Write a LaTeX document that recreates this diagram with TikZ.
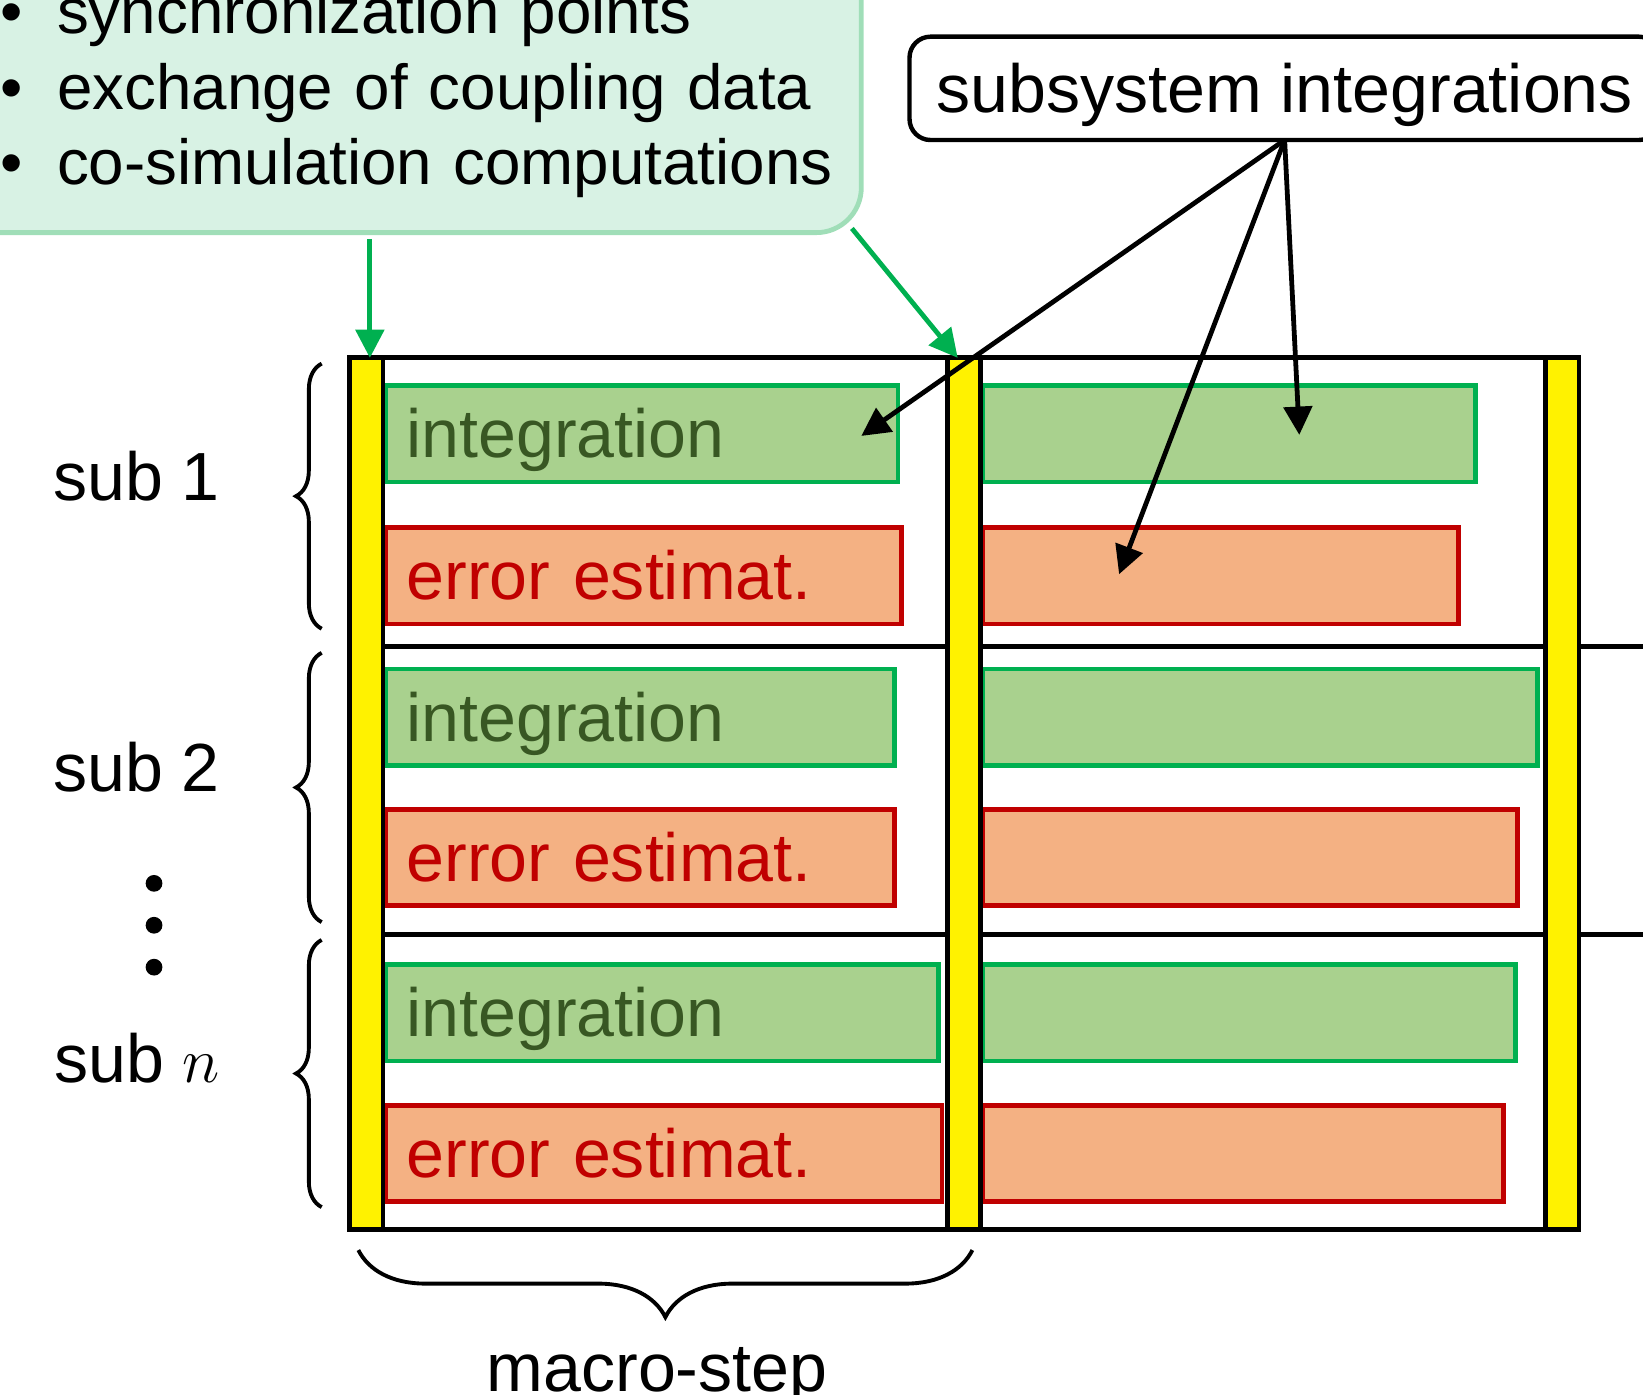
\documentclass[tikz,border=0pt]{standalone}
\usepackage{fontspec}
\setmainfont{Liberation Sans}
\usetikzlibrary{arrows.meta,decorations.pathreplacing}

\definecolor{intgreen}{RGB}{0,176,80}
\definecolor{intfill}{RGB}{169,209,142}
\definecolor{inttext}{RGB}{56,87,35}
\definecolor{errred}{RGB}{192,0,0}
\definecolor{errfill}{RGB}{244,177,131}
\definecolor{syncfill}{RGB}{216,242,228}
\definecolor{syncdraw}{RGB}{160,222,184}

\newcommand{\syncitem}{\makebox[0.885em][l]{\textbullet}}

\begin{document}
\begin{tikzpicture}[x=0.1mm, y=-0.1mm, font=\fontsize{18.5pt}{22pt}\selectfont,
    gridline/.style = {line width=1.3pt},
    syncbar/.style = {draw, fill=yellow, line width=1.3pt, anchor=north west, outer sep=0pt, minimum width=3.2mm, minimum height=83.2mm},
    intbox/.style = {draw=intgreen, fill=intfill, text=inttext, line width=1.3pt, anchor=north west, outer sep=0pt, inner xsep=2mm, minimum height=9.2mm, align=left, text height=13pt, text depth=0pt},
    errbox/.style = {intbox, draw=errred, fill=errfill, text=errred},
    pointer/.style = {line width=1.3pt, -{Triangle[length=2.7mm, width=2.7mm]}},
    syncarrow/.style = {pointer, draw=intgreen},
    curly/.style = {decorate, decoration={brace, amplitude=#1}, line width=1.05pt},
    label/.style = {anchor=base west, inner sep=0pt}]

    \useasboundingbox (0,0) rectangle (1568,1331);

    \node[draw=syncdraw, fill=syncfill, line width=1.3pt, rounded corners=4.3mm, anchor=south east, outer sep=0pt, minimum width=90mm, minimum height=35mm] (sync) at (822,222) {};
    \node[label, text width=80mm, align=left, font=\fontsize{17.3pt}{20.5pt}\selectfont] (synctext) at (0,32) {\syncitem synchronization points\\ \syncitem exchange of coupling data\\ \syncitem co-simulation computations};

    \node[draw, fill=white, line width=1.2pt, rounded corners=2mm, outer sep=0pt, minimum width=71.6mm, minimum height=9.86mm, text height=13pt, text depth=0pt] (subint) at (1226,84.3) {subsystem integrations};

    \draw[gridline] (333.5,341.5) rectangle (1507,1173.5);
    \draw[gridline] (365,617) -- (1600,617);
    \draw[gridline] (365,892) -- (1600,892);

    \node[intbox, text width=44.9mm] (i1) at (368,368) {integration};
    \node[errbox, text width=45.2mm] (e1) at (368,503.5) {error estimat.};
    \node[intbox, minimum width=47.05mm] (i1r) at (938,368) {};
    \node[errbox, minimum width=45.4mm] (e1r) at (938,503.5) {};
    \node[intbox, text width=44.6mm] (i2) at (368,638.5) {integration};
    \node[errbox, text width=44.6mm] (e2) at (368,772.5) {error estimat.};
    \node[intbox, minimum width=52.9mm] (i2r) at (938,638.5) {};
    \node[errbox, minimum width=51.05mm] (e2r) at (938,772.5) {};
    \node[intbox, text width=48.8mm] (i3) at (368,920.5) {integration};
    \node[errbox, text width=49.1mm] (e3) at (368,1055) {error estimat.};
    \node[intbox, minimum width=50.8mm] (i3r) at (938,920.5) {};
    \node[errbox, minimum width=49.7mm] (e3r) at (938,1055) {};

    \node[syncbar] (bar1) at (333.5,341.5) {};
    \node[syncbar] (bar2) at (904,341.5) {};
    \node[syncbar] (bar3) at (1475,341.5) {};

    \draw[curly=2.45mm] (307,600) -- (307,347);
    \draw[curly=2.45mm] (307,880) -- (307,623);
    \draw[curly=2.45mm] (307,1152) -- (307,897);
    \draw[curly=6.4mm] (928,1193) -- (342,1193);

    \node[label] (sub1) at (50,478) {sub 1};
    \node[label] (sub2) at (50,755) {sub 2};
    \node[label] (subn) at (51,1033) {sub $n$};
    \fill (147,843) circle (0.8mm);
    \fill (147,883) circle (0.8mm);
    \fill (147,923) circle (0.8mm);
    \node[anchor=base, inner sep=0pt] (macro) at (627,1328) {macro-step};

    \coordinate (t1) at (822,416);
    \coordinate (t2) at (1068,548);
    \coordinate (t3) at (1240,415);
    \draw[pointer] (subint.south) -- (t1);
    \draw[pointer] (subint.south) -- (t2);
    \draw[pointer] (subint.south) -- (t3);

    \coordinate (g1) at (353,228);
    \coordinate (g2) at (813,218);
    \draw[syncarrow] (g1) -- (g1 |- bar1.north);
    \draw[syncarrow] (g2) -- ([xshift=1mm]bar2.north west);

\end{tikzpicture}
\end{document}
